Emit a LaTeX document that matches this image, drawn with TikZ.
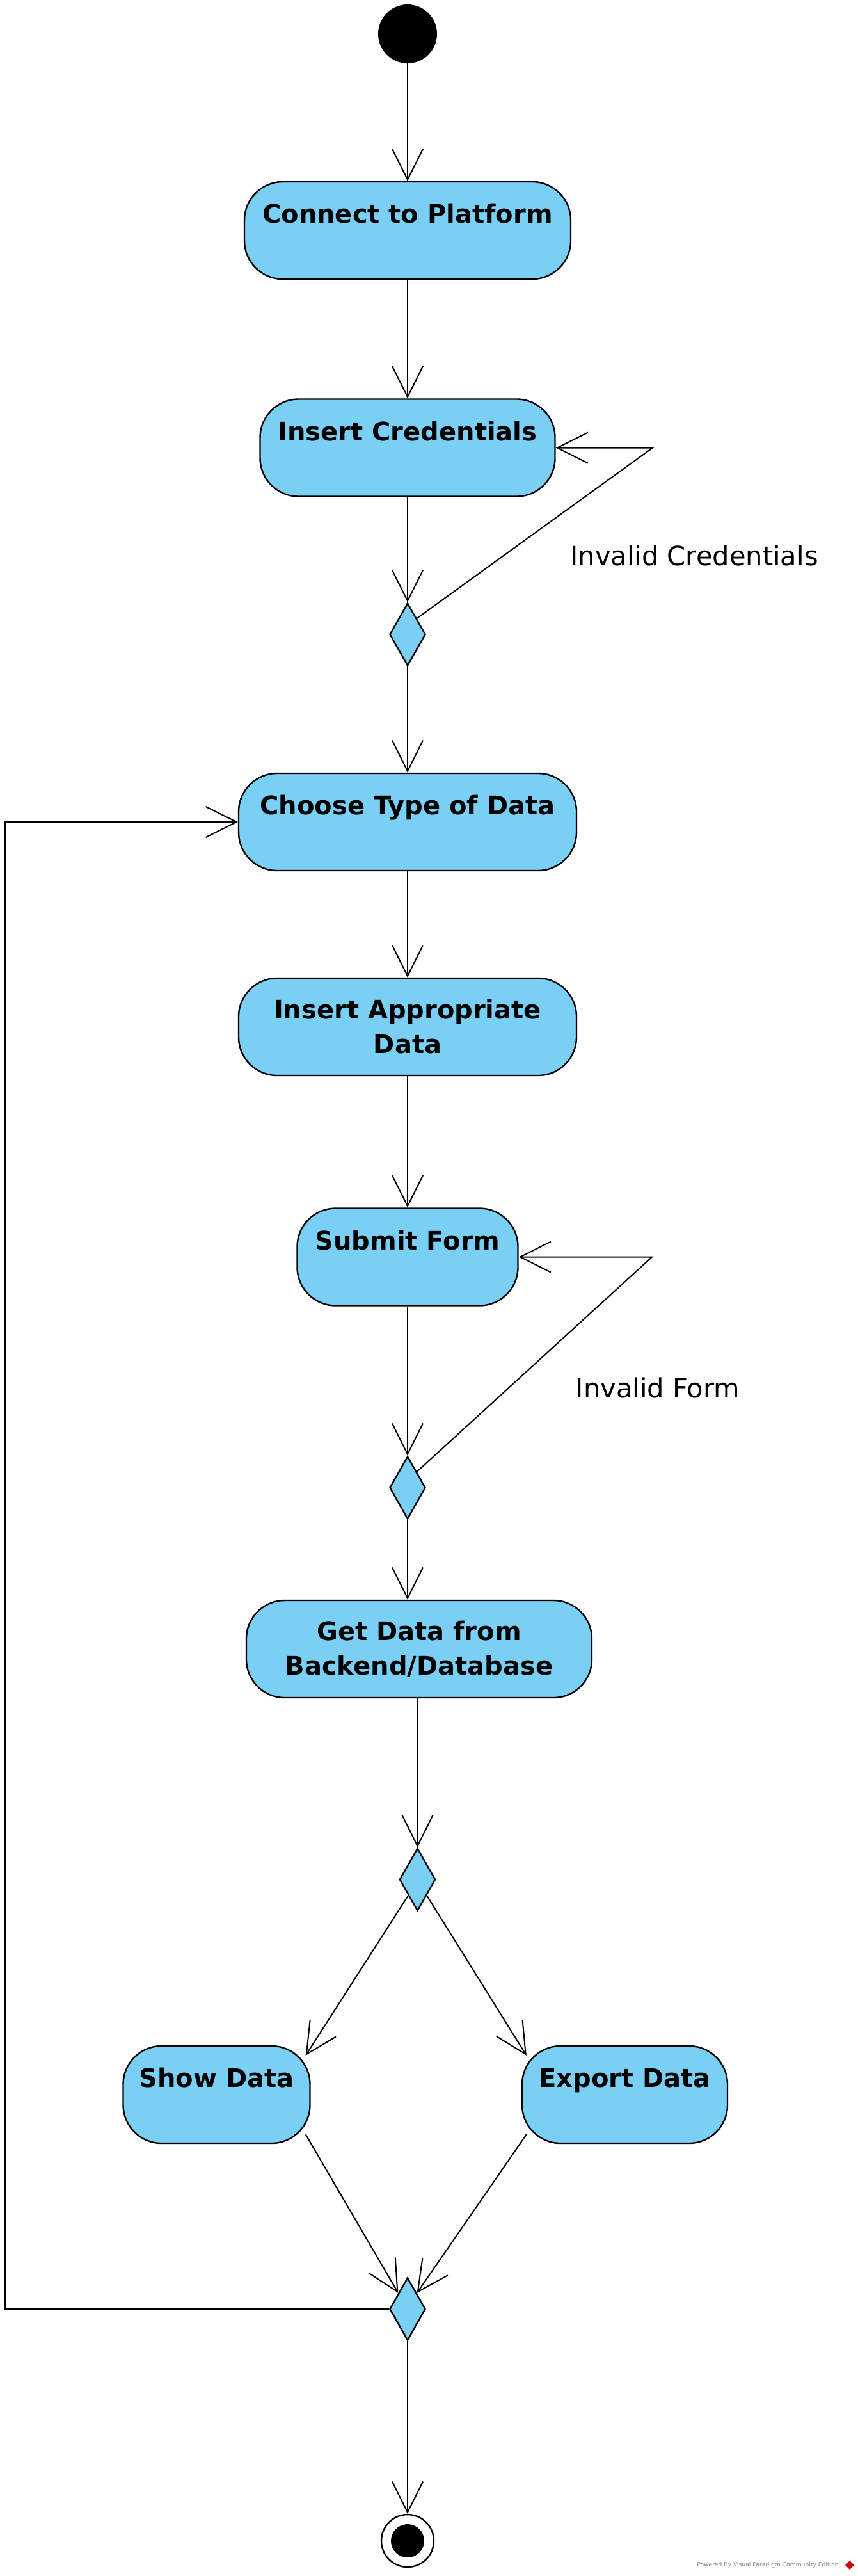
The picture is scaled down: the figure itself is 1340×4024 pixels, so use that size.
\documentclass[tikz,border=0pt]{standalone}
\usepackage{fontspec}
\setmainfont{DejaVu Sans}
\usetikzlibrary{shapes.geometric,arrows.meta}
\definecolor{actblue}{RGB}{122,207,245}
\tikzset{
    action/.style={draw, line width=1.2pt, fill=actblue, rounded corners=30pt, inner xsep=0pt, inner ysep=0pt, font=\fontsize{20}{27}\selectfont\bfseries},
    oneline/.style={action, text height=32.4pt, text depth=43.6pt},
    twoline/.style={action, align=center, minimum height=76pt},
    decision/.style={diamond, draw, line width=1.2pt, fill=actblue, inner sep=0pt, minimum width=28pt, minimum height=49pt},
    endstate/.style={circle, draw, line width=1.2pt, fill=white, inner sep=0pt, minimum size=41pt, path picture={\fill[black] (path picture bounding box.center) circle (13pt);}},
    flow/.style={-{Straight Barb[length=24pt,width=24pt]}, line width=1pt},
    guard/.style={font=\fontsize{20.8}{24}\selectfont}
}

\begin{document}
\begin{tikzpicture}[x=0.5pt,y=-0.5pt]
                \useasboundingbox (0,0) rectangle (1340,4024);

                \node (start) at (637,53) [circle, fill=black, inner sep=0pt, minimum size=46pt] {};
                \node (connect) at (637,360) [oneline, minimum width=255pt] {Connect to Platform};
                \node (creds) at (637,699.5) [oneline, minimum width=230.5pt] {Insert Credentials};
                \node (check1) at (637,991) [decision] {};
                \node (choose) at (637,1284) [oneline, minimum width=264pt] {Choose Type of Data};
                \node (insert) at (637,1604) [twoline, minimum width=264pt] {Insert Appropriate\\Data};
                \node (submit) at (637,1963.5) [oneline, minimum width=172.5pt] {Submit Form};
                \node (check2) at (637,2324) [decision] {};
                \node (fetch) at (655,2576) [twoline, minimum width=270pt] {Get Data from\\Backend/Database};
                \node (branch) at (652.5,2936) [decision] {};
                \node (show) at (338.5,3272) [oneline, minimum width=146pt] {Show Data};
                \node (export) at (976.5,3272) [oneline, minimum width=160.5pt] {Export Data};
                \node (merge) at (637,3607) [decision] {};
                \node (final) at (637,3969) [endstate] {};

                \node (badcreds) at (1085,868) [guard] {Invalid Credentials};
                \node (badform) at (1028,2168) [guard] {Invalid Form};

                \coordinate (loop1) at (1020,699.5);
                \coordinate (loop2) at (1019,1963.5);
                \coordinate (rail) at (8,1284);

                \draw [flow] (start) -- (connect);
                \draw [flow] (connect) -- (creds);
                \draw [flow] (creds) -- (check1);
                \draw [flow] (check1.north east) -- (loop1) -- (creds.east);
                \draw [flow] (check1) -- (choose);
                \draw [flow] (choose) -- (insert);
                \draw [flow] (insert) -- (submit);
                \draw [flow] (submit) -- (check2);
                \draw [flow] (check2.north east) -- (loop2) -- (submit.east);
                \draw [flow] (check2.south) -- (check2.south |- fetch.north);
                \draw [flow] (branch.north |- fetch.south) -- (branch);
                \draw [flow] (branch.south west) -- ([xshift=-4pt,yshift=-8pt]show.north east);
                \draw [flow] (branch.south east) -- ([xshift=4pt,yshift=-8pt]export.north west);
                \draw [flow] ([xshift=-4pt,yshift=7.5pt]show.south east) -- (merge.north west);
                \draw [flow] ([xshift=4pt,yshift=7.5pt]export.south west) -- (merge.north east);
                \draw [flow] (merge.west) -| (rail) -- (choose.west);
                \draw [flow] (merge) -- (final);

                \node (footer) at (1200,4007) [text=gray, font=\fontsize{4.6}{5}\selectfont] {Powered By Visual Paradigm Community Edition};
                \node (logo) at (1328,4007) [diamond, fill=red!80!black, inner sep=0pt, minimum size=7pt] {};
\end{tikzpicture}
\end{document}
